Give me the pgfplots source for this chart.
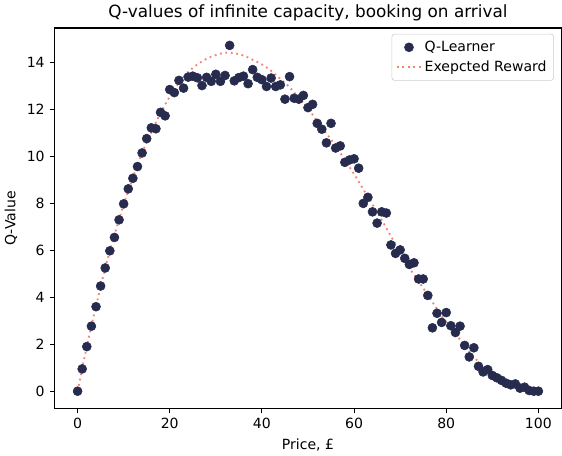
\documentclass[border=0pt]{standalone}
\usepackage{fontspec}
\setmainfont{DejaVu Sans}
\usepackage{pgfplots}
\pgfplotsset{compat=1.18}
\definecolor{qnavy}{HTML}{272C4F}
\definecolor{salmon}{HTML}{FA8072}

\begin{document}
\begin{tikzpicture}
\begin{axis}[
    width=361pt, height=271pt,
    scale only axis,
    xmin=-5, xmax=105, ymin=-0.74, ymax=15.47,
    xtick={0,20,...,100},
    ytick={0,2,...,14},
    tick align=outside,
    tick pos=left,
    major tick length=3.5pt,
    every tick/.style={black, line width=0.8pt},
    axis line style={line width=0.8pt},
    /pgf/number format/assume math mode=true,
    tick label style={font=\fontsize{10}{12}\selectfont},
    title={Q-values of infinite capacity, booking on arrival},
    title style={font=\fontsize{12}{14}\selectfont, yshift=-4.5pt},
    xlabel={Price, £},
    ylabel={Q-Value},
    label style={font=\fontsize{10}{12}\selectfont},
    xlabel style={yshift=0pt},
    ylabel style={yshift=0pt},
    legend style={at={(0.985,0.985)}, anchor=north east, draw=black!20,
        rounded corners=2pt, font=\fontsize{10}{12}\selectfont,
        row sep=1pt, inner sep=3pt},
    legend cell align=left,
]
\addplot[only marks, mark=*, mark size=3.2pt, color=qnavy, mark options={fill=qnavy, draw=qnavy}] coordinates {
(0,0) (1,0.95) (2,1.9) (3,2.77) (4,3.6) (5,4.48) (6,5.25) (7,5.98) (8,6.55) (9,7.3)
(10,7.98) (11,8.62) (12,9.07) (13,9.57) (14,10.15) (15,10.76) (16,11.22) (17,11.18) (18,11.88) (19,11.73)
(20,12.85) (21,12.72) (22,13.24) (23,12.91) (24,13.38) (25,13.42) (26,13.35) (27,13.02) (28,13.37) (29,13.2)
(30,13.5) (31,13.2) (32,13.45) (33,14.73) (34,13.22) (35,13.36) (36,13.42) (37,13.1) (38,13.7) (39,13.37)
(40,13.27) (41,12.98) (42,13.34) (43,12.98) (44,13.05) (45,12.44) (46,13.4) (47,12.48) (48,12.44) (49,12.6)
(50,12.08) (51,12.22) (52,11.41) (53,11.16) (54,10.58) (55,11.41) (56,10.36) (57,10.45) (58,9.75) (59,9.85)
(60,9.9) (61,9.5) (62,8.0) (63,8.26) (64,7.64) (65,7.16) (66,7.64) (67,7.59) (68,6.23) (69,5.87)
(70,6.02) (71,5.66) (72,5.4) (73,5.47) (74,4.78) (75,4.78) (76,4.08) (77,2.7) (78,3.32) (79,2.93)
(80,3.35) (81,2.79) (82,2.5) (83,2.77) (84,1.95) (85,1.46) (86,1.85) (87,1.06) (88,0.82) (89,0.92)
(90,0.67) (91,0.57) (92,0.46) (93,0.34) (94,0.27) (95,0.31) (96,0.13) (97,0.17) (98,0.03) (99,0.0)
(100,0.0)
};
\addlegendentry{Q-Learner}
\addplot[salmon, line width=1.3pt, dash pattern=on 1.3pt off 2.6pt, smooth] coordinates {
(0,0) (2,1.9) (4,3.62) (6,5.25) (8,6.65) (10,7.95) (12,9.1) (14,10.15) (16,11.05) (18,11.85)
(20,12.55) (22,13.15) (24,13.6) (26,13.92) (28,14.16) (30,14.32) (32,14.42) (34,14.4) (36,14.3) (38,14.12)
(40,13.92) (42,13.65) (44,13.3) (46,12.95) (48,12.5) (50,12.05) (52,11.5) (54,10.98) (56,10.45) (58,9.85)
(60,9.25) (62,8.6) (64,7.95) (66,7.3) (68,6.6) (70,5.95) (72,5.25) (74,4.68) (76,4.1) (78,3.5)
(80,2.95) (82,2.45) (84,1.95) (86,1.45) (88,1.08) (90,0.74) (92,0.48) (94,0.26) (96,0.08) (98,0.0)
(100,0.0)
};
\addlegendentry{Exepcted Reward}
\end{axis}
\end{tikzpicture}
\end{document}
